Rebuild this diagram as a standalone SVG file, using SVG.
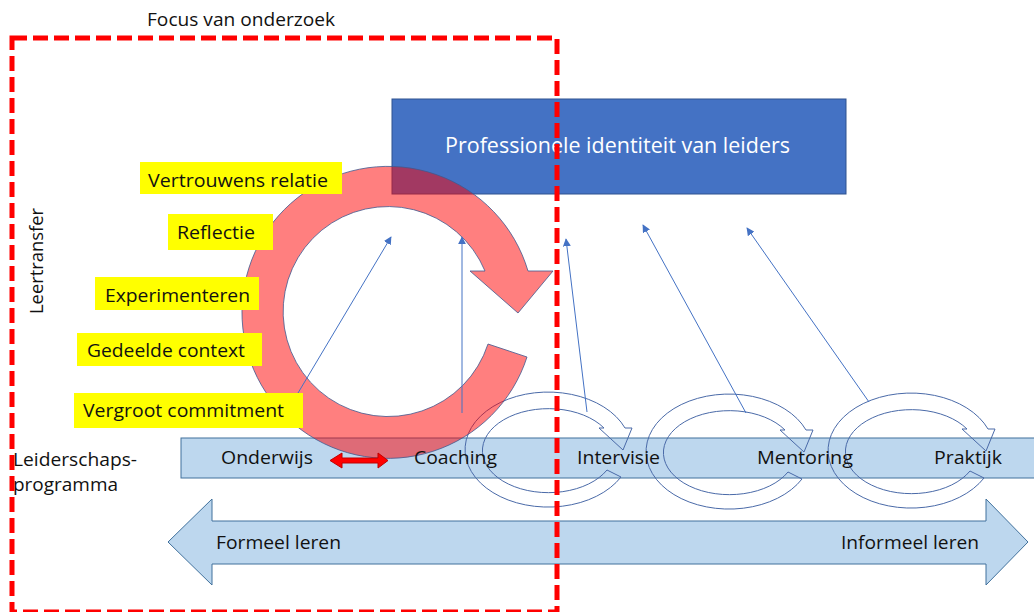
<svg xmlns="http://www.w3.org/2000/svg" width="1034" height="612" viewBox="0 0 1034 612">
  <style>
    text { font-family: "Open Sans", "Liberation Sans", sans-serif; fill: #111; }
    .lbl { font-size: 19px; }
    .band-txt { font-size: 18px; }
    .yellow { fill: #ffff00; }
    .cycle { fill: none; stroke: #4a6aa8; stroke-width: 1; }
    .link { fill: none; stroke: #4472c4; stroke-width: 1; marker-end: url(#tip); }
  </style>
  <defs>
    <marker id="tip" viewBox="0 0 10 10" refX="9" refY="5" markerWidth="8" markerHeight="8" markerUnits="userSpaceOnUse" orient="auto">
      <path d="M0,0 L10,5 L0,10 Z" fill="#4472c4"/>
    </marker>
  </defs>

  <rect width="1034" height="612" fill="#ffffff"/>

  <!-- learning-mode axis -->
  <g id="axis">
    <polygon points="168,542 212,499 212,521 986,521 986,499 1028,542 986,585 986,564 212,564 212,585" fill="#bdd7ee" stroke="#41719c" stroke-width="1"/>
    <text class="lbl" x="216" y="549" textLength="125" lengthAdjust="spacingAndGlyphs">Formeel leren</text>
    <text class="lbl" x="841" y="549" textLength="138" lengthAdjust="spacingAndGlyphs">Informeel leren</text>
  </g>

  <!-- programme band -->
  <g id="band">
    <rect x="181" y="438" width="860" height="40" fill="#bdd7ee" stroke="#41719c" stroke-width="1"/>
  </g>

  <!-- identity box -->
  <g id="identity">
    <rect x="392" y="99" width="454" height="95" fill="#4472c4" stroke="#2f528f" stroke-width="1"/>
    <text x="445" y="153" font-size="22" style="fill:#ffffff" textLength="345" lengthAdjust="spacingAndGlyphs">Professionele identiteit van leiders</text>
  </g>

  <!-- small learning cycles -->
  <g id="cycle-intervisie">
    <path class="cycle" d="M621,477 A83,57.5 0 1 1 625,428 L632,428 L623,450 L599,428 L604,428 A66,42 0 1 0 607,470 Z"/>
  </g>
  <g id="cycle-mentoring" transform="translate(181,2)">
    <path class="cycle" d="M621,477 A83,57.5 0 1 1 625,428 L632,428 L623,450 L599,428 L604,428 A66,42 0 1 0 607,470 Z"/>
  </g>
  <g id="cycle-praktijk" transform="translate(363,1)">
    <path class="cycle" d="M621,477 A83,57.5 0 1 1 625,428 L632,428 L623,450 L599,428 L604,428 A66,42 0 1 0 607,470 Z"/>
  </g>

  <!-- transfer cycle -->
  <g id="transfer-cycle">
    <path d="M527,357 A146,146 0 1 1 528,271 L553,271 L518,313 L470,271 L485,271 A105,105 0 1 0 488,344 Z" fill="#ff0000" fill-opacity="0.5" stroke="#41598f" stroke-width="1" stroke-opacity="0.8"/>
  </g>

  <!-- band labels -->
  <g id="onderwijs"><text class="band-txt" x="221" y="464" textLength="92" lengthAdjust="spacingAndGlyphs">Onderwijs</text></g>
  <g id="coaching"><text class="band-txt" x="414" y="464" textLength="83" lengthAdjust="spacingAndGlyphs">Coaching</text></g>
  <g id="intervisie"><text class="band-txt" x="577" y="464" textLength="83" lengthAdjust="spacingAndGlyphs">Intervisie</text></g>
  <g id="mentoring"><text class="band-txt" x="757" y="464" textLength="96" lengthAdjust="spacingAndGlyphs">Mentoring</text></g>
  <g id="praktijk"><text class="band-txt" x="934" y="464" textLength="68" lengthAdjust="spacingAndGlyphs">Praktijk</text></g>

  <!-- exchange between education and coaching -->
  <g id="exchange">
    <polygon points="330,460.5 342,453 342,458 378,458 378,453 388,460.5 378,468 378,463 342,463 342,468" fill="#ff0000" stroke="#c00000" stroke-width="1"/>
  </g>

  <!-- transfer conditions -->
  <g id="vertrouwens">
    <rect class="yellow" x="140" y="162" width="202" height="32"/>
    <text class="lbl" x="148" y="187" textLength="180" lengthAdjust="spacingAndGlyphs">Vertrouwens relatie</text>
  </g>
  <g id="reflectie">
    <rect class="yellow" x="168" y="214" width="105" height="36"/>
    <text class="lbl" x="177" y="239" textLength="78" lengthAdjust="spacingAndGlyphs">Reflectie</text>
  </g>
  <g id="experimenteren">
    <rect class="yellow" x="95" y="277" width="164" height="33"/>
    <text class="lbl" x="105" y="302" textLength="145" lengthAdjust="spacingAndGlyphs">Experimenteren</text>
  </g>
  <g id="gedeelde-context">
    <rect class="yellow" x="77" y="333" width="185" height="33"/>
    <text class="lbl" x="87" y="357" textLength="158" lengthAdjust="spacingAndGlyphs">Gedeelde context</text>
  </g>
  <g id="commitment">
    <rect class="yellow" x="74" y="393" width="229" height="35"/>
    <text class="lbl" x="83" y="417" textLength="201" lengthAdjust="spacingAndGlyphs">Vergroot commitment</text>
  </g>

  <!-- influence on professional identity -->
  <g id="connectors">
    <line class="link" x1="298" y1="393" x2="391" y2="237"/>
    <line class="link" x1="462" y1="413" x2="462" y2="237"/>
    <line class="link" x1="587" y1="412" x2="566" y2="239"/>
    <line class="link" x1="746" y1="413" x2="643" y2="225"/>
    <line class="link" x1="869" y1="402" x2="747" y2="228"/>
  </g>

  <!-- side captions -->
  <g id="captions">
    <text class="lbl" x="0" y="0" transform="translate(43,314) rotate(-90)" textLength="106" lengthAdjust="spacingAndGlyphs">Leertransfer</text>
    <text class="lbl" x="13" y="466" textLength="124" lengthAdjust="spacingAndGlyphs">Leiderschaps-</text>
    <text class="lbl" x="13" y="491" textLength="105" lengthAdjust="spacingAndGlyphs">programma</text>
  </g>

  <!-- research focus -->
  <g id="focus">
    <text class="lbl" x="147" y="26" textLength="188" lengthAdjust="spacingAndGlyphs">Focus van onderzoek</text>
    <rect x="12" y="38" width="545" height="574" fill="none" stroke="#ff0000" stroke-width="5" stroke-dasharray="15 6"/>
  </g>
</svg>
